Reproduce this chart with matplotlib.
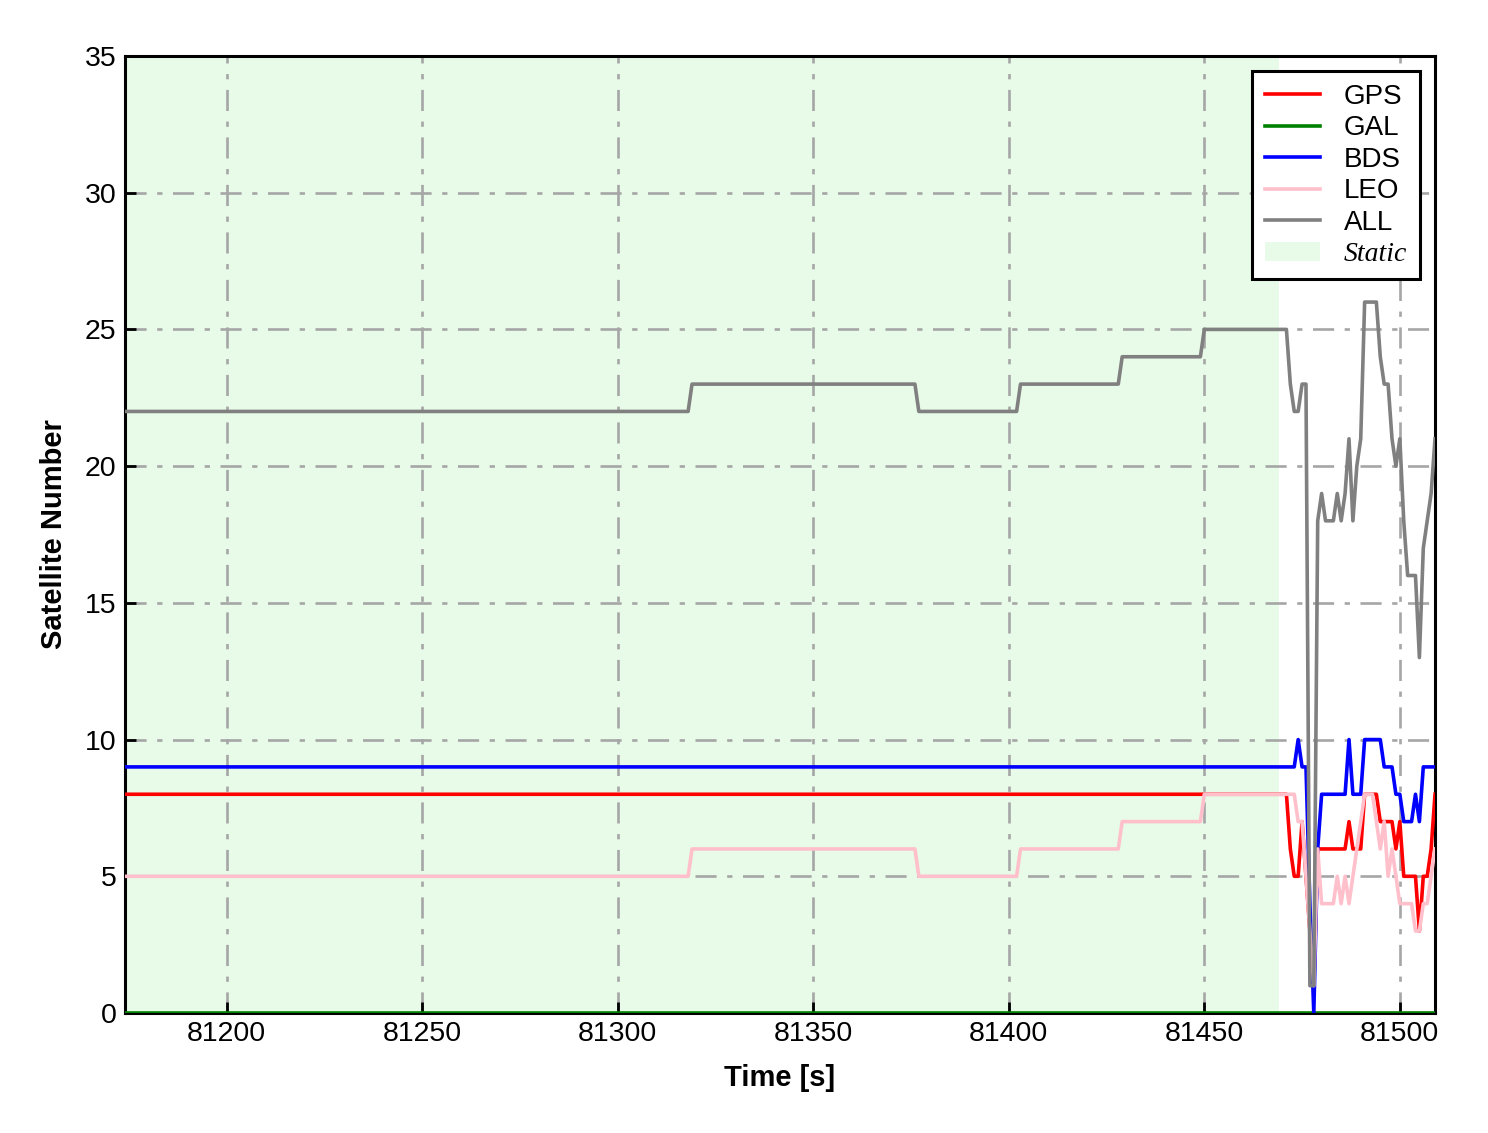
import matplotlib.pyplot as plt
import numpy as np
import matplotlib as mpl

mpl.rcParams['font.family'] = ['Liberation Sans', 'DejaVu Sans']
mpl.rcParams['figure.dpi'] = 100

t_start = 81174
t_end = 81509
static_end = 81469

# static part as (value, number of epochs) runs
gps_runs = [(8, 298)]                      # 81174 .. 81471
bds_runs = [(9, 296)]                      # 81174 .. 81469
leo_runs = [(5, 145), (6, 58), (5, 26), (6, 26), (7, 21), (8, 20)]
all_runs = [(22, 145), (23, 58), (22, 26), (23, 26), (24, 21), (25, 20)]

# dynamic part, one value per second
gps_tail = [6, 5, 5, 7, 5, 3, 1, 6, 6, 6, 6, 6, 6, 6, 6, 7, 6, 6, 6,
            8, 8, 8, 8, 7, 7, 7, 7, 6, 7, 5, 5, 5, 5, 3, 5, 5, 6, 8]          # 81472 ..
bds_tail = [9, 9, 9, 9, 10, 9, 9, 4, 0, 6, 8, 8, 8, 8, 8, 8, 8, 10, 8, 8, 8,
            10, 10, 10, 10, 10, 9, 9, 9, 8, 8, 7, 7, 7, 8, 7, 9, 9, 9, 9]    # 81470 ..
leo_tail = [8, 8, 8, 8, 7, 7, 5, 3, 1, 6, 4, 4, 4, 4, 5, 4, 5, 4, 5, 6, 7,
            8, 8, 8, 7, 6, 7, 5, 6, 5, 4, 4, 4, 4, 3, 3, 4, 4, 5, 6]          # 81470 ..
all_tail = [25, 25, 23, 22, 22, 23, 23, 1, 1, 18, 19, 18, 18, 18, 19, 18, 19, 21, 18, 20, 21,
            26, 26, 26, 26, 24, 23, 23, 21, 20, 21, 18, 16, 16, 16, 13, 17, 18, 19, 21]  # 81470 ..


def build(runs, tail):
    vals = []
    for v, n in runs:
        vals += [v] * n
    return np.array(vals + tail, dtype=float)


t = np.arange(t_start, t_end + 1)
gps = build(gps_runs, gps_tail)
bds = build(bds_runs, bds_tail)
leo = build(leo_runs, leo_tail)
alls = build(all_runs, all_tail)
gal = np.zeros_like(t, dtype=float)

fig = plt.figure(figsize=(14.88, 11.33))
ax = fig.add_axes([0.084, 0.1059, 0.8804, 0.8447])

ax.axvspan(t_start, static_end, color='lightgreen', alpha=0.2, lw=0, label='Static', zorder=0)
ax.grid(True, color='#a6a6a6', linestyle='-.', linewidth=1.9, dashes=(8, 4, 2, 4), zorder=1)

lw = 2.6
ax.plot(t, gps, color='red', lw=lw, label='GPS', zorder=3)
ax.plot(t, gal, color='green', lw=lw, label='GAL', zorder=3)
ax.plot(t, bds, color='blue', lw=lw, label='BDS', zorder=3)
ax.plot(t, leo, color='pink', lw=lw, label='LEO', zorder=3)
ax.plot(t, alls, color='gray', lw=lw, label='ALL', zorder=3)

ax.set_xlim(t_start, t_end)
ax.set_ylim(0, 35)
ax.set_xticks([81200, 81250, 81300, 81350, 81400, 81450, 81500])
ax.set_yticks(np.arange(0, 36, 5))
ax.tick_params(direction='in', length=8, width=2, labelsize=20.5, pad=6)
for s in ax.spines.values():
    s.set_linewidth(2.2)

ax.set_xlabel('Time [s]', fontsize=21, fontweight='bold', labelpad=12)
ax.set_ylabel('Satellite Number', fontsize=21, fontweight='bold', labelpad=12)

handles, labels = ax.get_legend_handles_labels()
order = ['GPS', 'GAL', 'BDS', 'LEO', 'ALL', 'Static']
hl = dict(zip(labels, handles))
leg = ax.legend([hl[k] for k in order], order, loc='upper right', fontsize=20,
                fancybox=False, framealpha=1, edgecolor='black', handlelength=2.0,
                handletextpad=0.85, labelspacing=0.2, borderpad=0.45, borderaxespad=0.55)
leg.get_frame().set_linewidth(2.2)
for txt in leg.get_texts():
    if txt.get_text() == 'Static':
        txt.set_family('Liberation Serif')
        txt.set_style('italic')

fig.savefig('out.png', dpi=100)
